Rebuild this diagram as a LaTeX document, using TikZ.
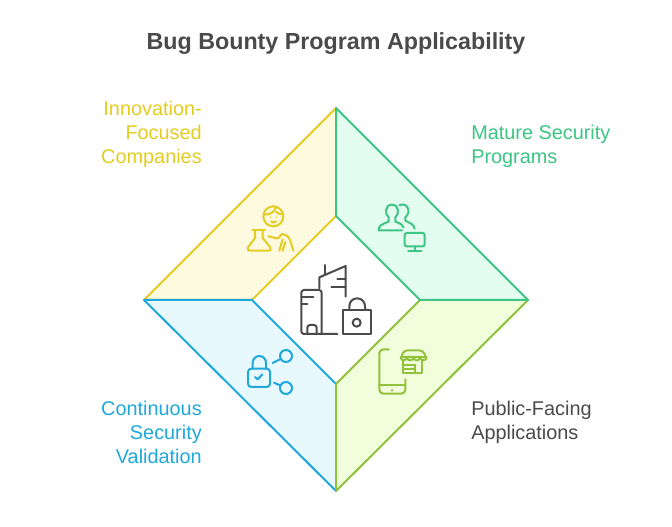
\documentclass[tikz,border=0pt]{standalone}
\usepackage{fontspec}
\setmainfont{Liberation Sans}
\definecolor{titlegray}{HTML}{4A4A4A}
\definecolor{innoline}{HTML}{E3CC22}
\definecolor{innofill}{HTML}{FEFADF}
\definecolor{matureline}{HTML}{3CC583}
\definecolor{maturefill}{HTML}{E3FDF1}
\definecolor{publicline}{HTML}{92C13C}
\definecolor{publicfill}{HTML}{F1FEDC}
\definecolor{contline}{HTML}{1EA8DB}
\definecolor{contfill}{HTML}{E7F8FF}
\tikzset{
petal/.style={line width=1.5pt, line join=round},
label/.style={font=\fontsize{14.9}{18}\selectfont, inner sep=0pt},
leftlabel/.style={label, align=right, anchor=east},
rightlabel/.style={label, align=left, anchor=west},
icon/.style={x=.25pt, y=-.25pt, line width=1.5pt, line cap=round, line join=round}
}

\begin{document}
\begin{tikzpicture}[x=.75pt, y=-.75pt]
	\useasboundingbox (0,0) rectangle (672,527);
	\fill[white] (0,0) rectangle (672,527);
	\coordinate (top) at (336,108);
	\coordinate (right) at (528,300);
	\coordinate (bottom) at (336,491);
	\coordinate (left) at (144,300);
	\coordinate (intop) at (336,216);
	\coordinate (inright) at (420,300);
	\coordinate (inbottom) at (336,384);
	\coordinate (inleft) at (252,300);

	\draw[petal, innoline, fill=innofill] (left) -- (top) -- (intop) -- (inleft) -- cycle;
	\draw[petal, contline, fill=contfill] (bottom) -- (left) -- (inleft) -- (inbottom) -- cycle;
	\draw[petal, publicline, fill=publicfill] (right) -- (bottom) -- (inbottom) -- (inright) -- cycle;
	\draw[petal, matureline, fill=maturefill] (top) -- (right) -- (inright) -- (intop) -- cycle;

	\node[font=\fontsize{17.45}{20}\bfseries\selectfont, text=titlegray] (title) at (336,43.5) {Bug Bounty Program Applicability};
	\node[leftlabel, text=innoline] (inno) at (202,134) {Innovation-\\Focused\\Companies};
	\node[rightlabel, text=matureline] (mature) at (471,146) {Mature Security\\Programs};
	\node[rightlabel, text=titlegray] (public) at (471,422) {Public-Facing\\Applications};
	\node[leftlabel, text=contline] (cont) at (202,432) {Continuous\\Security\\Validation};

	% center
	\begin{scope}[shift={(230,190)}, icon, titlegray]
		\draw[rounded corners=2pt] (322,432) -- (214,432) -- (214,300) -- (275,300) -- (275,432);
		\draw[rounded corners=2pt] (232,432) -- (232,405) -- (260,405) -- (260,432);
		\draw (214,322) -- (250,322) (214,342) -- (232,342);
		\draw (268,295) -- (268,262) -- (347,228) -- (347,320);
		\draw (286,225) -- (286,252) (322,268) -- (347,268) (304,290) -- (347,290);
		\draw (340,360) rectangle (422,432);
		\draw (358,360) -- (358,348) arc[start angle=180, end angle=360, x radius=23.5, y radius=23] -- (405,360);
		\draw (380,398) circle[radius=12];
	\end{scope}

	% innovation
	\begin{scope}[shift={(240,198)}, icon, innoline]
		\draw (100,55) circle[radius=30];
		\draw (72,50) .. controls (90,50) and (102,44) .. (108,28);
		\draw (108,42) .. controls (114,48) and (122,50) .. (128,48);
		\fill (92,58) circle[radius=2.5] (109,58) circle[radius=2.5];
		\draw (93,70) .. controls (97,75) and (104,75) .. (108,70);
		\draw (38,97) -- (75,97);
		\draw (45,97) -- (45,120) -- (24,148) .. controls (20,154) and (24,158) .. (30,158) -- (85,158) .. controls (91,158) and (95,154) .. (91,148) -- (68,120) -- (68,97);
		\draw (85,115) .. controls (98,116) and (110,124) .. (116,120) -- (125,108) .. controls (140,110) and (146,116) .. (150,126) -- (160,158);
		\draw (128,124) -- (118,158) (136,132) -- (128,158);
	\end{scope}

	% mature
	\begin{scope}[shift={(372,198)}, icon, matureline]
		\draw (90,97) -- (20,97) .. controls (20,84) and (26,80) .. (50,71) -- (50,58) .. controls (38,50) and (38,20) .. (60,20) .. controls (82,20) and (82,50) .. (70,58) -- (70,71) .. controls (84,76) and (92,80) .. (95,88);
		\draw (82,22) .. controls (105,10) and (120,42) .. (100,58) -- (100,68) .. controls (116,76) and (126,80) .. (128,92);
		\draw[rounded corners=1.5pt] (98,105) rectangle (158,145);
		\draw (128,145) -- (128,158) (108,158) -- (148,158);
	\end{scope}

	% public
	\begin{scope}[shift={(372,342)}, icon, publicline]
		\draw[rounded corners=3pt] (50,22) -- (22,22) -- (22,155) -- (100,155) -- (100,112);
		\draw (22,130) -- (100,130);
		\fill (60,145) circle[radius=4];
		\draw[rounded corners=2pt] (98,25) -- (150,25) -- (164,45) -- (86,45) -- cycle;
		\draw (86,45) .. controls (88,58) and (100,58) .. (105,47) .. controls (108,58) and (120,58) .. (125,47) .. controls (128,58) and (140,58) .. (145,47) .. controls (148,58) and (162,58) .. (164,45);
		\draw (93,55) -- (93,92) -- (150,92) -- (150,55);
		\draw (130,68) -- (130,92) (93,70) -- (130,70) (93,82) -- (130,82);
	\end{scope}

	% continuous
	\begin{scope}[shift={(240,342)}, icon, contline]
		\draw[rounded corners=2.5pt] (24,80) rectangle (90,135);
		\draw (38,80) -- (38,62) arc[start angle=180, end angle=360, x radius=20, y radius=20] -- (78,80);
		\draw (45,105) -- (53,112) -- (67,97);
		\draw (138,42) circle[radius=18] (138,138) circle[radius=18];
		\draw (98,63) -- (120,52) (102,122) -- (120,130);
	\end{scope}
\end{tikzpicture}
\end{document}
